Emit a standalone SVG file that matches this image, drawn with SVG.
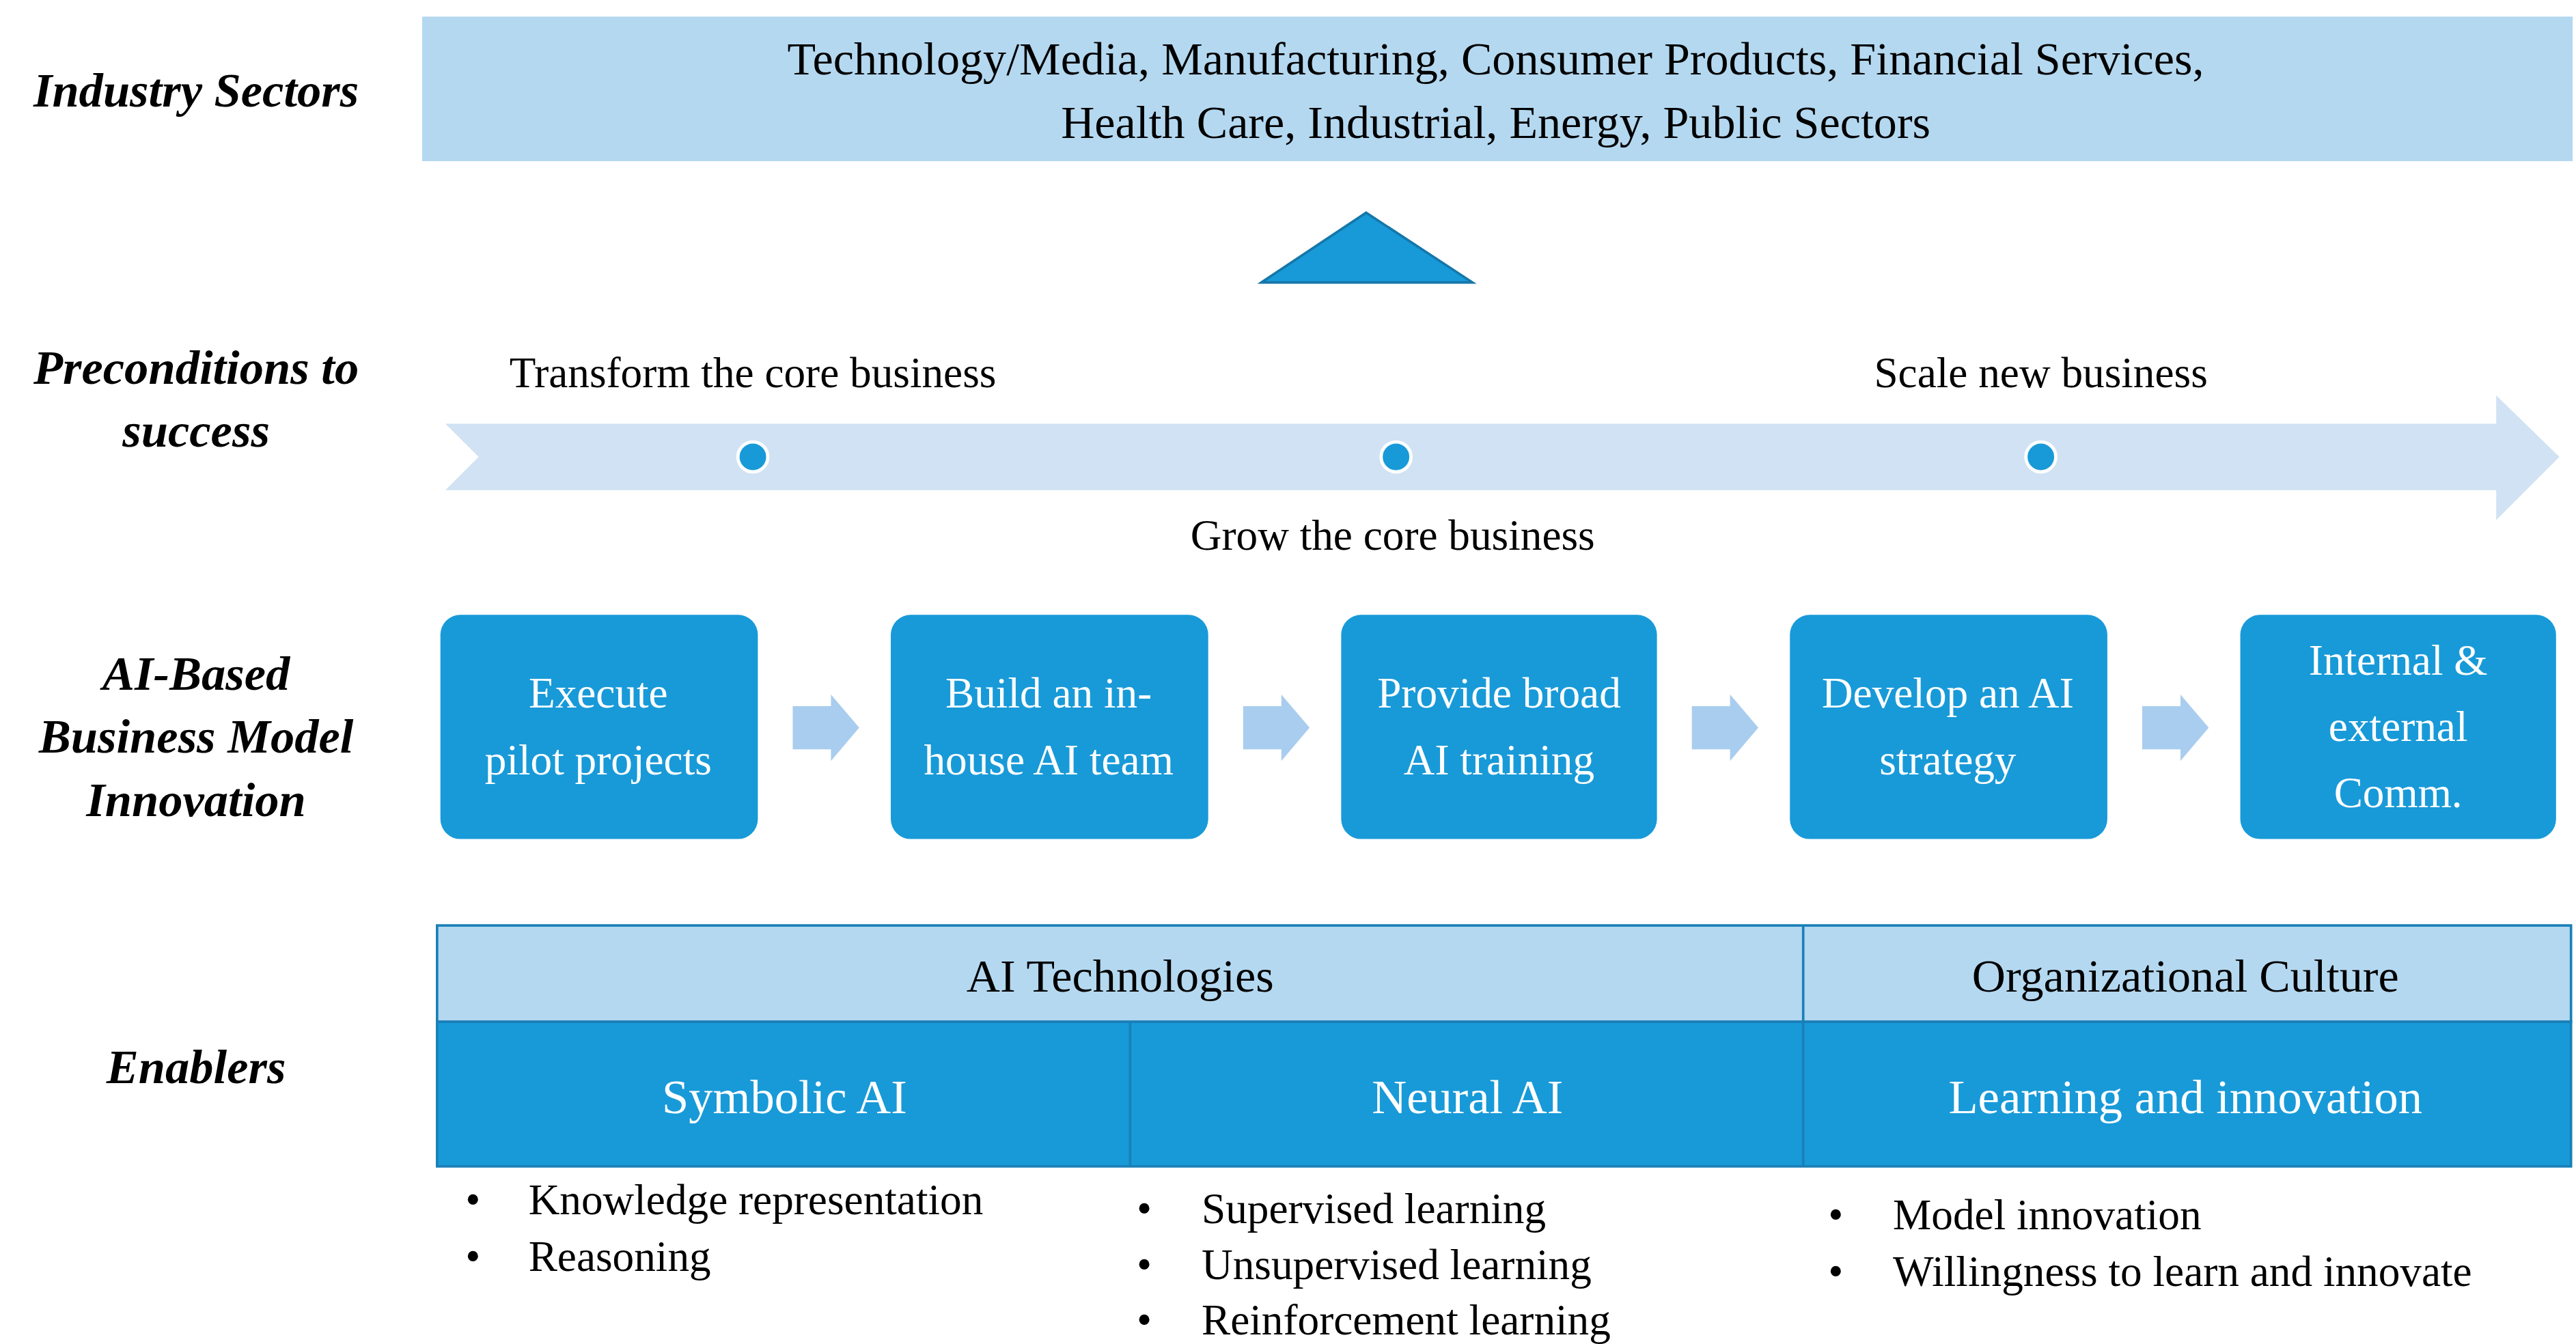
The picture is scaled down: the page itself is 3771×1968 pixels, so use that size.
<svg xmlns="http://www.w3.org/2000/svg" width="3771" height="1968" viewBox="0 0 3771 1968">
<style>
text{font-family:"Liberation Serif","Times New Roman",serif;fill:#000}
.lab{font-weight:bold;font-style:italic;font-size:29px;text-anchor:middle}
.t{font-size:26px}
.c{text-anchor:middle}
.w{fill:#fff}
.box{fill:#189ad8}
.sm{fill:#a9cdee}
</style>
<rect width="3771" height="1968" fill="#fff"/>
<g transform="scale(2.4329)">
<g id="labels">
<text class="lab" x="118" y="64">Industry Sectors</text>
<text class="lab" x="118" y="231">Preconditions to</text>
<text class="lab" x="118" y="269">success</text>
<text class="lab" x="118" y="415">AI-Based</text>
<text class="lab" x="118" y="453">Business Model</text>
<text class="lab" x="118" y="491">Innovation</text>
<text class="lab" x="118" y="652">Enablers</text>
</g>
<g id="sectors">
<rect x="254" y="10" width="1294" height="87" fill="#b4d8f0"/>
<text class="c" x="900" y="45" font-size="28">Technology/Media, Manufacturing, Consumer Products, Financial Services,</text>
<text class="c" x="900" y="83" font-size="28">Health Care, Industrial, Energy, Public Sectors</text>
</g>
<g id="triangle"><polygon points="759,170 822,128 886,170" fill="#189ad8" stroke="#1577aa" stroke-width="1.5"/></g>
<g id="timeline">
<polygon points="268,255 1502,255 1502,238 1540,275 1502,313 1502,295 268,295 288,275" fill="#d0e2f3"/>
<circle cx="453" cy="275" r="9" fill="#189ad8" stroke="#fff" stroke-width="2"/>
<circle cx="840" cy="275" r="9" fill="#189ad8" stroke="#fff" stroke-width="2"/>
<circle cx="1228" cy="275" r="9" fill="#189ad8" stroke="#fff" stroke-width="2"/>
<text class="t c" x="453" y="233">Transform the core business</text>
<text class="t c" x="1228" y="233">Scale new business</text>
<text class="t c" x="838" y="331">Grow the core business</text>
</g>
<g id="n1"><rect class="box" x="265" y="370" width="191" height="135" rx="12"/><text class="t c w" x="360" y="426">Execute</text><text class="t c w" x="360" y="466">pilot projects</text></g>
<g id="n2"><rect class="box" x="536" y="370" width="191" height="135" rx="12"/><text class="t c w" x="631" y="426">Build an in-</text><text class="t c w" x="631" y="466">house AI team</text></g>
<g id="n3"><rect class="box" x="807" y="370" width="190" height="135" rx="12"/><text class="t c w" x="902" y="426">Provide broad</text><text class="t c w" x="902" y="466">AI training</text></g>
<g id="n4"><rect class="box" x="1077" y="370" width="191" height="135" rx="12"/><text class="t c w" x="1172" y="426">Develop an AI</text><text class="t c w" x="1172" y="466">strategy</text></g>
<g id="n5"><rect class="box" x="1348" y="370" width="190" height="135" rx="12"/><text class="t c w" x="1443" y="406">Internal &amp;</text><text class="t c w" x="1443" y="446">external</text><text class="t c w" x="1443" y="486">Comm.</text></g>
<g id="connectors">
<polygon class="sm" points="477,425 500,425 500,418 517,438 500,458 500,451 477,451"/>
<polygon class="sm" points="748,425 771,425 771,418 788,438 771,458 771,451 748,451"/>
<polygon class="sm" points="1018,425 1041,425 1041,418 1058,438 1041,458 1041,451 1018,451"/>
<polygon class="sm" points="1289,425 1312,425 1312,418 1329,438 1312,458 1312,451 1289,451"/>
</g>
<g id="enablers">
<rect x="263" y="557" width="1284" height="58" fill="#b4d8f0" stroke="#1a7fb8" stroke-width="1.5"/>
<rect x="263" y="615" width="1284" height="87" fill="#189ad8" stroke="#1a7fb8" stroke-width="1.5"/>
<line x1="1085" y1="557" x2="1085" y2="702" stroke="#1a7fb8" stroke-width="1.5"/>
<line x1="680" y1="615" x2="680" y2="702" stroke="#1a7fb8" stroke-width="1.5"/>
<text class="c" x="674" y="597" font-size="28">AI Technologies</text>
<text class="c" x="1315" y="597" font-size="28">Organizational Culture</text>
<text class="c w" x="472" y="670" font-size="29">Symbolic AI</text>
<text class="c w" x="883" y="670" font-size="29">Neural AI</text>
<text class="c w" x="1315" y="670" font-size="29">Learning and innovation</text>
<g font-size="25">
<text class="t" x="280" y="731">•</text><text class="t" x="318" y="731">Knowledge representation</text>
<text class="t" x="280" y="765">•</text><text class="t" x="318" y="765">Reasoning</text>
<text class="t" x="684" y="736">•</text><text class="t" x="723" y="736">Supervised learning</text>
<text class="t" x="684" y="770">•</text><text class="t" x="723" y="770">Unsupervised learning</text>
<text class="t" x="684" y="803">•</text><text class="t" x="723" y="803">Reinforcement learning</text>
<text class="t" x="1100" y="740">•</text><text class="t" x="1139" y="740">Model innovation</text>
<text class="t" x="1100" y="774">•</text><text class="t" x="1139" y="774">Willingness to learn and innovate</text>
</g>
</g>
</g>
</svg>
